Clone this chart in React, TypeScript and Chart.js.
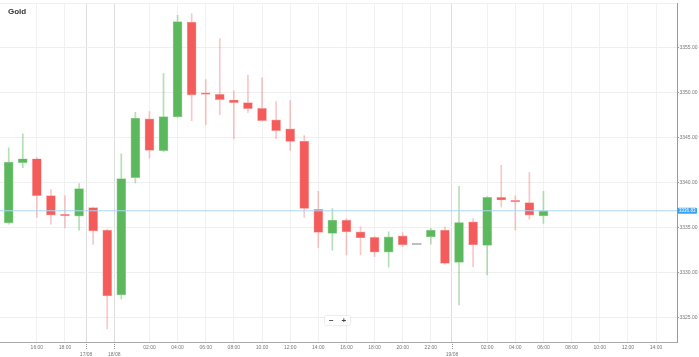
import React, { useEffect, useRef } from 'react';
import { Chart, registerables } from 'chart.js';

Chart.register(...registerables);

// ---- data (hourly candles) ----
const candleIndex = [
  1, 2, 3, 4, 5, 6, 7, 8, 9, 10, 11, 12, 13, 14, 15, 16, 17, 18, 19, 20,
  21, 22, 23, 24, 25, 26, 27, 28, 29, 30, 31, 32, 33, 34, 35, 36, 37, 38, 39,
];
const opens = [
  3335.49, 3342.18, 3342.62, 3338.52, 3336.42, 3336.23, 3337.19, 3334.68, 3327.48, 3340.51,
  3347.05, 3343.51, 3347.27, 3357.82, 3349.93, 3349.77, 3349.15, 3348.85, 3348.22, 3346.94,
  3345.94, 3344.57, 3337.0, 3334.31, 3335.79, 3334.49, 3333.87, 3332.24, 3334.05, 3333.05,
  3333.94, 3334.68, 3331.1, 3335.6, 3332.98, 3338.33, 3338.0, 3337.75, 3336.26,
];
const highs = [
  3343.84, 3345.39, 3342.75, 3339.19, 3338.52, 3339.85, 3337.25, 3334.8, 3343.17, 3347.78,
  3347.86, 3352.1, 3358.57, 3358.74, 3351.43, 3355.97, 3350.18, 3351.92, 3351.62, 3348.96,
  3349.08, 3345.2, 3339.0, 3337.08, 3335.97, 3335.04, 3334.0, 3334.49, 3334.42, 3333.05,
  3334.87, 3335.04, 3339.55, 3335.97, 3338.4, 3341.88, 3338.48, 3341.07, 3339.0,
];
const lows = [
  3335.34, 3341.62, 3336.09, 3335.34, 3334.93, 3334.68, 3333.1, 3323.72, 3327.04, 3339.92,
  3342.69, 3343.4, 3347.2, 3346.86, 3346.42, 3347.52, 3344.83, 3347.78, 3346.8, 3344.83,
  3343.54, 3336.09, 3332.72, 3332.46, 3331.91, 3331.91, 3331.72, 3330.55, 3332.83, 3333.05,
  3333.13, 3330.88, 3326.37, 3330.61, 3329.7, 3337.26, 3334.68, 3335.9, 3335.42,
];
const closes = [
  3342.24, 3342.62, 3338.52, 3336.34, 3336.26, 3339.3, 3334.6, 3327.37, 3340.4, 3347.12,
  3343.54, 3347.3, 3357.86, 3349.71, 3349.77, 3349.19, 3348.85, 3348.19, 3346.86, 3345.75,
  3344.53, 3337.08, 3334.42, 3335.79, 3334.49, 3333.83, 3332.24, 3333.94, 3333.05, 3333.05,
  3334.68, 3330.99, 3335.53, 3333.05, 3338.33, 3338.03, 3337.81, 3336.34, 3336.82,
];
const currentPrice = 3336.83;
const currentPriceLabel = '3336.83';

const yTickValues = [3325, 3330, 3335, 3340, 3345, 3350, 3355];
const xTickValues = [3, 5, 6.5, 8.5, 11, 13, 15, 17, 19, 21, 23, 25, 27, 29, 31, 32.5, 35, 37, 39, 41, 43, 45, 47];
const xTickLabels = [
  '16:00', '18:00', '17/08', '18/08', '02:00', '04:00', '06:00', '08:00', '10:00', '12:00', '14:00',
  '16:00', '18:00', '20:00', '22:00', '19/08', '02:00', '04:00', '06:00', '08:00', '10:00', '12:00', '14:00',
];
const title = 'Gold';

const X_MIN = 0.381;
const X_MAX = 48.49;
const Y_MIN = 3322.24;
const Y_MAX = 3359.88;

const FONT = "'Liberation Sans', Arial, sans-serif";
const GREEN = '#5cb85c';
const RED = '#f45b5b';
const GRAY = '#b8b8b8';

const isDateLabel = (i: number) => xTickLabels[i] && xTickLabels[i].includes('/');

const overlayPlugin = {
  id: 'overlayPlugin',
  afterDraw(chart: any) {
    const { ctx, chartArea, scales } = chart;
    const xs = scales.x;
    const ys = scales.y;
    ctx.save();
    // dotted tick marks for day separators
    ctx.strokeStyle = '#999';
    ctx.lineWidth = 1;
    ctx.setLineDash([1, 1]);
    xTickValues.forEach((v, i) => {
      if (!isDateLabel(i)) return;
      const px = Math.round(xs.getPixelForValue(v)) + 0.5;
      ctx.beginPath();
      ctx.moveTo(px, chartArea.bottom);
      ctx.lineTo(px, chartArea.bottom + 8);
      ctx.stroke();
    });
    ctx.setLineDash([]);
    // current price label
    const py = ys.getPixelForValue(currentPrice);
    const bx = chartArea.right + 0.5;
    ctx.fillStyle = '#3aa3ef';
    ctx.beginPath();
    (ctx as any).roundRect ? ctx.roundRect(bx, py - 3, 19.5, 6, 1) : ctx.rect(bx, py - 3, 19.5, 6);
    ctx.fill();
    ctx.fillStyle = '#ffffff';
    ctx.font = `4.5px ${FONT}`;
    ctx.textAlign = 'center';
    ctx.textBaseline = 'middle';
    ctx.fillText(currentPriceLabel, bx + 9.75, py + 0.3);
    ctx.restore();
  },
};

export default function App() {
  const canvasRef = useRef<HTMLCanvasElement | null>(null);

  useEffect(() => {
    document.body.style.margin = '0';
    const canvas = canvasRef.current;
    if (!canvas) return;

    const bodyColors = opens.map((o, i) => (closes[i] > o ? GREEN : closes[i] < o ? RED : GRAY));
    const bodyBorders = opens.map((o, i) =>
      closes[i] > o ? 'rgba(150,210,150,0.9)' : closes[i] < o ? 'rgba(250,160,160,0.9)' : GRAY
    );
    const wickColors = opens.map((o, i) =>
      closes[i] > o ? 'rgba(92,184,92,0.45)' : closes[i] < o ? 'rgba(244,91,91,0.35)' : 'rgba(180,180,180,0.5)'
    );

    const chart = new Chart(canvas, {
      type: 'bar',
      data: {
        datasets: [
          {
            type: 'line',
            data: [
              { x: X_MIN, y: currentPrice },
              { x: X_MAX, y: currentPrice },
            ],
            borderColor: '#a9d7f7',
            borderWidth: 1,
            pointRadius: 0,
            order: 0,
          } as any,
          {
            type: 'bar',
            data: candleIndex.map((x, i) => ({ x, y: [opens[i], closes[i]] })),
            backgroundColor: bodyColors,
            borderColor: bodyBorders,
            borderWidth: 0.7,
            borderSkipped: false,
            barThickness: 9,
            minBarLength: 1.6,
            grouped: false,
            order: 1,
          } as any,
          {
            type: 'bar',
            data: candleIndex.map((x, i) => ({ x, y: [lows[i], highs[i]] })),
            backgroundColor: wickColors,
            borderWidth: 0,
            barThickness: 1,
            grouped: false,
            order: 2,
          } as any,
        ],
      },
      options: {
        animation: false,
        responsive: false,
        maintainAspectRatio: false,
        devicePixelRatio: 1,
        layout: { padding: { top: 2, left: 0, right: 0, bottom: 0 } },
        plugins: {
          legend: { display: false },
          tooltip: { enabled: false },
          title: { display: false },
        },
        scales: {
          x: {
            type: 'linear',
            min: X_MIN,
            max: X_MAX,
            offset: false,
            afterBuildTicks: (scale: any) => {
              scale.ticks = xTickValues.map((v) => ({ value: v }));
            },
            afterFit: (scale: any) => {
              scale.height = 15;
            },
            grid: {
              offset: false,
              drawTicks: false,
              color: (c: any) => (isDateLabel(c.index) ? '#dddddd' : '#f1f1f1'),
              lineWidth: 1,
            },
            border: { color: '#a8a8a8', width: 1 },
            ticks: {
              autoSkip: false,
              maxRotation: 0,
              minRotation: 0,
              padding: 2,
              color: '#777',
              font: { size: 5, family: FONT, lineHeight: 1.4 },
              callback: (_v: any, i: number) => (isDateLabel(i) ? ['', xTickLabels[i]] : xTickLabels[i]),
            },
          },
          y: {
            type: 'linear',
            position: 'right',
            min: Y_MIN,
            max: Y_MAX,
            afterBuildTicks: (scale: any) => {
              scale.ticks = [...yTickValues, Y_MAX].map((v) => ({ value: v }));
            },
            afterFit: (scale: any) => {
              scale.width = 22;
            },
            grid: {
              color: '#efefef',
              tickLength: 2,
              tickColor: (c: any) => (c.tick && c.tick.value === Y_MAX ? 'rgba(0,0,0,0)' : '#999'),
            },
            border: { color: '#9a9a9a', width: 1 },
            ticks: {
              padding: 0.5,
              color: '#777',
              font: { size: 5, family: FONT },
              callback: (v: any) => (v === Y_MAX ? '' : Number(v).toFixed(2)),
            },
          },
        },
      } as any,
      plugins: [overlayPlugin],
    });

    return () => {
      chart.destroy();
    };
  }, []);

  return (
    <div style={{ position: 'relative', width: 699, height: 357, background: '#fff', overflow: 'hidden' }}>
      <canvas ref={canvasRef} width={699} height={357} style={{ display: 'block', width: 699, height: 357 }} />
      <div
        style={{
          position: 'absolute',
          left: 8,
          top: 7,
          fontFamily: FONT,
          fontWeight: 'bold',
          fontSize: 8,
          lineHeight: '9px',
          color: '#333',
        }}
      >
        {title}
      </div>
      <div
        style={{
          position: 'absolute',
          left: 325,
          top: 316,
          width: 25,
          height: 9,
          background: '#fff',
          boxShadow: '0 0 2px rgba(0,0,0,0.25)',
          borderRadius: 1,
          display: 'flex',
          alignItems: 'center',
          justifyContent: 'space-around',
          fontFamily: FONT,
          fontWeight: 'bold',
          fontSize: 8,
          lineHeight: '9px',
          color: '#444',
        }}
      >
        <span>−</span>
        <span>+</span>
      </div>
    </div>
  );
}
